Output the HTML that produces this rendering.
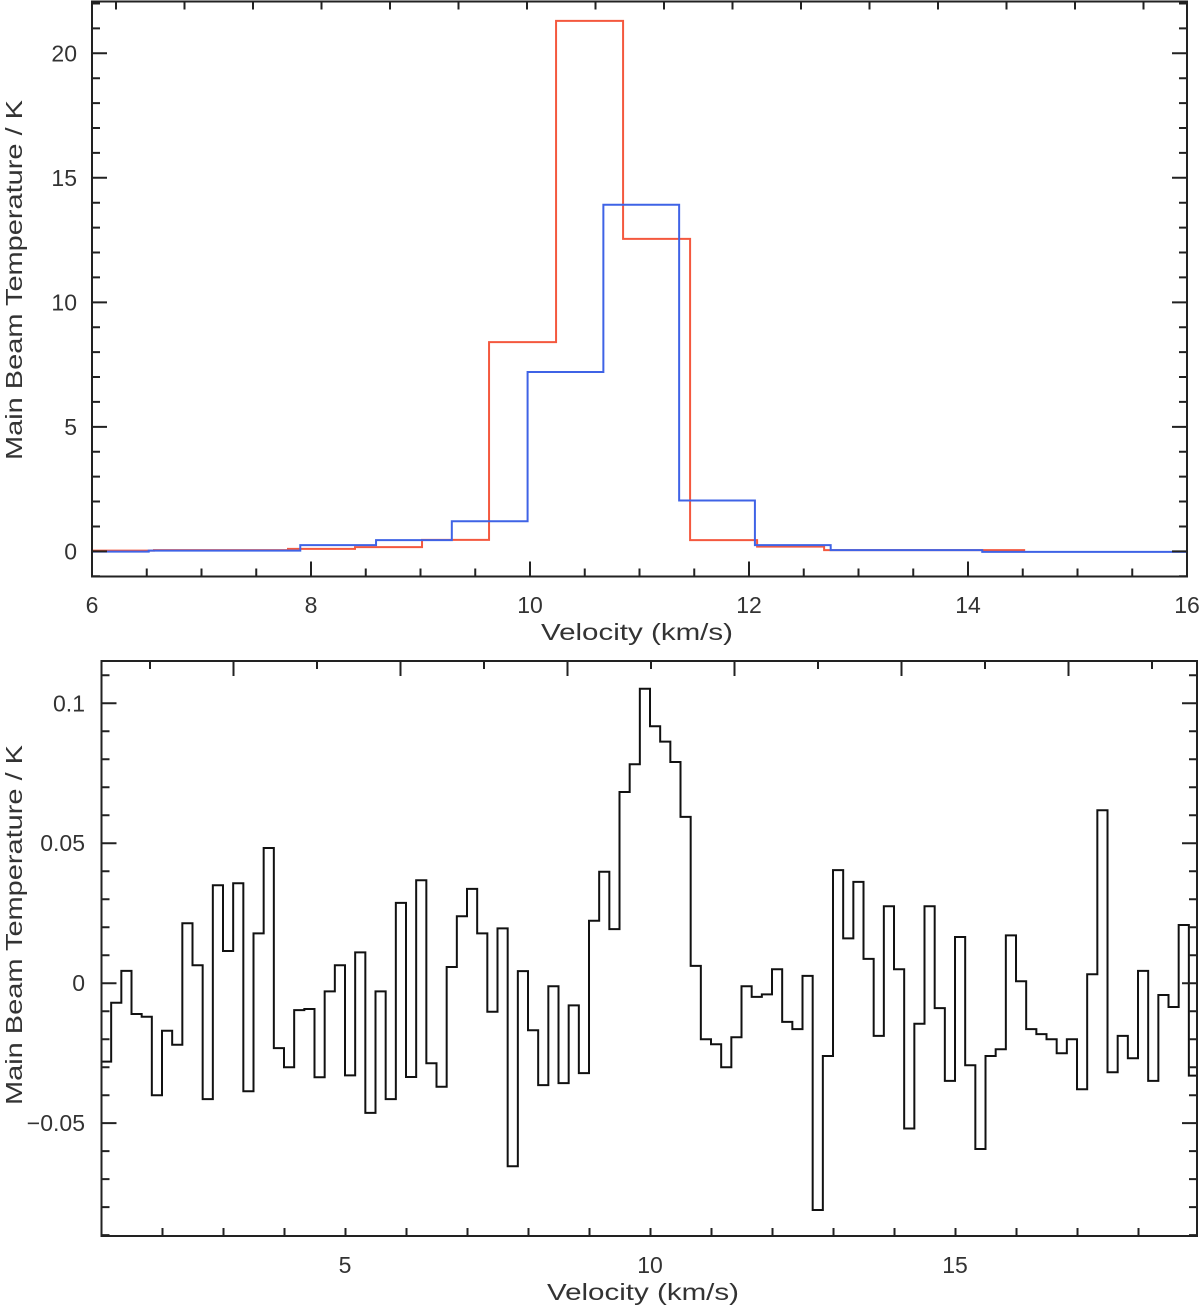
<!DOCTYPE html>
<html><head><meta charset="utf-8"><style>
html,body{margin:0;padding:0;background:#fff;}
svg{display:block;font-family:"Liberation Sans",sans-serif;}
text{fill:#333;font-size:23px;}
</style></head><body>
<svg id="fig" width="1200" height="1306" viewBox="0 0 1200 1306" xmlns="http://www.w3.org/2000/svg">
<g id="top"></g>
<g id="bot"></g>
</svg>
<script>
// ---- top chart data ----
const topRedStart = 5.954;
const topRedWidth = 0.612;
const topRedValues = [0.03,0.05,0.05,0.1,0.17,0.46,8.4,21.3,12.55,0.45,0.19,0.05,0.05,0.05];
const topBlueStart = 5.826;
const topBlueWidth = 0.692;
const topBlueValues = [-0.01,0.03,0.03,0.25,0.45,1.21,7.2,13.92,2.04,0.25,0.05,0.05,-0.02,-0.02,-0.02];
const topXTicks = ["6","8","10","12","14","16"];
const topYTicks = ["0","5","10","15","20"];
// ---- bottom chart data ----
const botStart = 1.0;
const botWidth = 1/6;
const botValues = [-0.028,-0.007,0.0044,-0.011,-0.012,-0.040,-0.017,-0.022,0.0214,0.0064,
-0.0414,0.035,0.0115,0.0357,-0.0386,0.0178,0.0483,-0.0232,-0.030,-0.0096,
-0.0092,-0.0336,-0.0029,0.0064,-0.0329,0.011,-0.0463,-0.0029,-0.0414,0.0287,
-0.0335,0.0368,-0.0286,-0.037,0.0058,0.0239,0.0337,0.0178,-0.0102,0.0196,
-0.0654,0.0043,-0.0168,-0.0364,-0.0011,-0.0357,-0.0079,-0.0321,0.0223,0.0398,
0.0193,0.0683,0.0782,0.1052,0.0918,0.0863,0.079,0.0594,0.0062,-0.020,
-0.0218,-0.030,-0.0193,-0.0011,-0.0049,-0.004,0.005,-0.0138,-0.0164,0.0026,
-0.081,-0.026,0.0404,0.016,0.0362,0.0087,-0.0188,0.0275,0.005,-0.0519,
-0.0145,0.0275,-0.0089,-0.0349,0.0165,-0.0293,-0.0592,-0.026,-0.0236,0.0171,
0.0007,-0.0164,-0.0182,-0.020,-0.025,-0.020,-0.0379,0.0032,0.0618,-0.0318,
-0.0188,-0.0268,0.0044,-0.0349,-0.0042,-0.0085,0.0208,-0.033];
const botXTicks = ["5","10","15"];
const botYTicks = ["−0.05","0","0.05","0.1"];

const NS="http://www.w3.org/2000/svg";
function mk(parent,tag,attrs){const e=document.createElementNS(NS,tag);for(const k in attrs)e.setAttribute(k,attrs[k]);parent.appendChild(e);return e;}

function chart(g,cfg){
  const L=cfg.L,R=cfg.R,T=cfg.T,B=cfg.B;
  const sx=v=>L+(v-cfg.x0)/(cfg.x1-cfg.x0)*(R-L);
  const sy=v=>B-(v-cfg.y0)/(cfg.y1-cfg.y0)*(B-T);
  const cid=cfg.id+'-clip';
  const defs=mk(g,'defs',{});
  const cp=mk(defs,'clipPath',{id:cid});
  mk(cp,'rect',{x:L,y:T,width:R-L,height:B-T});
  cfg.series.forEach(s=>{
    let d='';
    s.values.forEach((v,i)=>{
      const xa=sx(s.start+i*s.width), xb=sx(s.start+(i+1)*s.width), y=sy(v);
      d+=(i===0?'M'+xa+','+y:'V'+y)+'H'+xb;
    });
    const p=mk(g,'path',{d:d,fill:'none',stroke:s.color,'stroke-width':2,'clip-path':'url(#'+cid+')'});
    
    
  });
  const fr=mk(g,'rect',{x:L,y:T,width:R-L,height:B-T,fill:'none',stroke:'#222','stroke-width':2});
  
  
  let td='';
  for(let v=cfg.x0;v<=cfg.x1+1e-9;v+=cfg.xMinor){
    const isMaj=Math.abs(v/cfg.xMajor-Math.round(v/cfg.xMajor))<1e-6;
    const len=isMaj?15:8;const x=sx(v);
    td+='M'+x+','+B+'v'+(-len);
  }
  if(cfg.topAlt){ for(let k=0;;k++){const x=cfg.topAlt.x0+k*cfg.topAlt.step; if(x>R)break; const len=(k%2===cfg.topAlt.majPar)?15:8; td+='M'+x+','+T+'v'+len;} }
  for(let v=cfg.y0Tick;v<=cfg.y1+1e-9;v+=cfg.yMinor){
    const isMaj=Math.abs(v/cfg.yMajor-Math.round(v/cfg.yMajor))<1e-6;
    const len=isMaj?15:8;const y=sy(v);
    td+='M'+L+','+y+'h'+len+'M'+R+','+y+'h'+(-len);
  }
  const tk=mk(g,'path',{d:td,stroke:'#222','stroke-width':2,fill:'none'});
  
  
  cfg.xTicks.forEach(t=>{
    const v=parseFloat(t.replace('−','-'));
    const e=mk(g,'text',{x:sx(v),y:cfg.xLabY,'text-anchor':'middle'});e.textContent=t;
    
    
  });
  cfg.yTicks.forEach(t=>{
    const v=parseFloat(t.replace('−','-'));
    const e=mk(g,'text',{x:cfg.yLabX,y:sy(v)+8,'text-anchor':'end'});e.textContent=t;
    
    
  });
  const xt=mk(g,'text',{x:cfg.xTitleX,y:cfg.xTitleY,'text-anchor':'middle',textLength:192,lengthAdjust:'spacingAndGlyphs'});
  xt.textContent='Velocity (km/s)';
  
  
  const yt=mk(g,'text',{x:0,y:0,'text-anchor':'middle',textLength:360,lengthAdjust:'spacingAndGlyphs',transform:'translate(22,'+cfg.yTitleY+') rotate(-90)'});
  yt.textContent='Main Beam Temperature / K';
  
  
}

chart(document.getElementById('top'),{id:'top',L:92,R:1187,T:1.5,B:576.5,x0:6,x1:16,y0:-1.01,y1:22.08,
  xMinor:0.5,xMajor:2,y0Tick:-1,yMinor:1,yMajor:5,topAlt:{x0:116,step:68.5,majPar:-1},
  xTicks:topXTicks,yTicks:topYTicks,xLabY:613,yLabX:77,xTitleX:637,xTitleY:640,yTitleY:280,
  series:[{name:'red-spectrum',color:'#f4583e',start:topRedStart,width:topRedWidth,values:topRedValues},
          {name:'blue-spectrum',color:'#3f63e6',start:topBlueStart,width:topBlueWidth,values:topBlueValues}]});

chart(document.getElementById('bot'),{id:'bot',L:101.5,R:1197,T:661,B:1236,x0:1.0082,x1:18.967,y0:-0.0903,y1:0.1151,
  xMinor:1,xMajor:5,y0Tick:-0.09,yMinor:0.01,yMajor:0.05,topAlt:{x0:150,step:83.5,majPar:1},
  xTicks:botXTicks,yTicks:botYTicks,xLabY:1273,yLabX:85,xTitleX:643,xTitleY:1300,yTitleY:925,
  series:[{name:'black-spectrum',color:'#111',start:botStart,width:botWidth,values:botValues}]});
</script>
</body></html>
